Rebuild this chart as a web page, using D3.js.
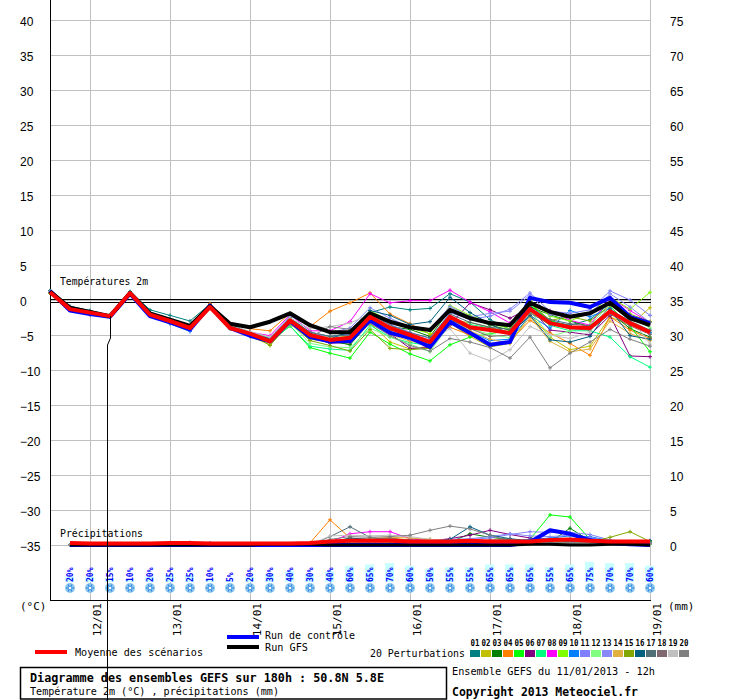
<!DOCTYPE html>
<html>
<head>
<meta charset="utf-8">
<script src="https://d3js.org/d3.v7.min.js"></script>
<style>
  body { margin: 0; background: #fff; }
  text { font-family: "DejaVu Sans Mono", monospace; fill: #000; }
  .num text { font-family: "Liberation Sans", Arial, sans-serif; font-size: 12px; }
</style>
</head>
<body>
<div id="chart"></div>
<script>
// time steps (hours after 11/01 12h)
var stepHours = [0,6,12,18,24,30,36,42,48,54,60,66,72,78,84,90,96,102,108,114,120,126,132,138,144,150,156,162,168,174,180];
var rainHours = [6,12,18,24,30,36,42,48,54,60,66,72,78,84,90,96,102,108,114,120,126,132,138,144,150,156,162,168,174,180];
var dayHours = [12,36,60,84,108,132,156,180];
var dayLabels = ["12/01","13/01","14/01","15/01","16/01","17/01","18/01","19/01"];
var tempTicks = [40,35,30,25,20,15,10,5,0,-5,-10,-15,-20,-25,-30,-35];
var mmTicks = [75,70,65,60,55,50,45,40,35,30,25,20,15,10,5,0];

// temperature 2m (°C)
var tMean = [1.1,-1.3,-1.8,-2.3,1.0,-2.1,-3.0,-4.0,-1.0,-4.0,-4.8,-5.9,-2.9,-5.0,-5.7,-5.4,-2.4,-4.0,-5.0,-6.0,-2.4,-3.9,-4.3,-4.7,-1.3,-3.3,-3.9,-4.0,-1.6,-3.3,-4.6];
var tGfs = [1.2,-1.1,-1.7,-2.3,1.0,-1.9,-2.8,-3.7,-0.9,-3.4,-3.9,-3.1,-1.9,-3.6,-4.6,-4.6,-1.9,-3.1,-3.9,-4.3,-1.4,-2.6,-3.3,-3.6,-0.4,-1.7,-2.4,-1.9,-0.4,-2.6,-3.6];
var tCtrl = [1.3,-1.5,-2.0,-2.4,0.9,-2.3,-3.2,-4.2,-0.8,-4.0,-5.1,-5.9,-3.0,-5.3,-5.9,-5.9,-2.9,-4.7,-5.4,-6.7,-3.1,-4.7,-6.4,-6.0,0.3,-0.3,-0.4,-1.0,0.3,-2.4,-3.3];

var tPert01 = [1.3,-0.9,-1.5,-2.2,1.2,-1.4,-2.2,-3.0,-0.6,-3.5,-4.6,-5.5,-2.5,-4.6,-5.2,-4.8,-1.8,-1.0,-1.4,-1.2,0.9,-0.3,-2.8,-4.2,-0.8,-3.0,-3.6,-2.8,-0.5,-3.0,-4.6];
var tPert02 = [1.0,-1.2,-1.9,-2.4,0.9,-2.2,-3.2,-4.2,-1.2,-4.1,-5.2,-6.4,-3.4,-5.6,-6.0,-6.3,-3.3,-6.0,-7.0,-6.6,-3.3,-5.2,-6.7,-6.2,-2.0,-5.3,-7.1,-6.6,-2.4,-3.6,-1.1];
var tPert03 = [1.2,-1.0,-1.7,-2.3,1.1,-2.0,-2.9,-3.8,-0.8,-3.7,-4.6,-5.6,-2.5,-5.0,-5.8,-6.4,-3.1,-3.8,-4.2,-5.2,-1.4,-2.4,-3.6,-4.3,-1.0,-2.1,-3.0,-3.8,-1.7,-4.1,-5.3];
var tPert04 = [1.1,-1.1,-1.8,-2.3,1.0,-1.9,-2.8,-3.7,-0.5,-3.4,-4.1,-4.4,-1.9,-3.8,-1.6,-0.4,1.0,-2.0,-3.4,-4.9,-3.9,-5.0,-6.3,-5.9,-2.9,-4.7,-6.2,-7.9,-2.4,-4.3,-5.5];
var tPert05 = [1.0,-1.3,-2.0,-2.4,0.8,-2.3,-3.3,-4.3,-1.1,-4.0,-5.1,-5.9,-3.7,-6.8,-7.6,-8.3,-4.6,-6.3,-7.7,-8.7,-6.4,-5.3,-4.8,-4.4,-0.6,-2.9,-3.9,-4.1,-0.9,-3.7,-7.4];
var tPert06 = [1.1,-1.4,-2.1,-2.4,0.9,-2.0,-3.1,-4.2,-0.9,-3.9,-5.0,-6.1,-3.0,-5.2,-6.2,-6.0,-2.6,-4.8,-6.9,-6.8,-3.6,-0.4,-1.4,-2.6,-1.1,-4.3,-4.6,-5.0,-2.2,-8.0,-8.1];
var tPert07 = [1.2,-1.0,-1.7,-2.3,1.1,-2.2,-3.1,-4.1,-0.9,-3.9,-4.9,-6.1,-3.7,-6.6,-7.0,-7.2,-3.6,-5.3,-6.1,-6.5,-3.0,-3.5,-4.0,-4.6,-1.7,-3.6,-4.4,-4.4,-5.3,-8.1,-9.6];
var tPert08 = [1.1,-1.2,-1.8,-2.3,0.9,-2.1,-3.2,-4.1,-0.9,-3.8,-4.6,-5.1,-2.1,-4.4,-4.4,-3.1,0.9,-0.4,-0.1,-0.1,1.4,-0.3,-1.7,-3.3,-0.4,-1.5,-2.9,-3.6,0.4,-1.5,-3.2];
var tPert09 = [1.0,-1.1,-1.7,-2.2,1.0,-2.0,-3.0,-4.0,-0.9,-3.8,-4.7,-5.4,-2.7,-4.8,-5.5,-5.1,-1.5,-3.0,-4.0,-4.8,-0.8,-2.2,-3.3,-4.1,0.0,-2.3,-3.0,-1.8,0.4,-1.3,1.1];
var tPert10 = [1.2,-1.3,-1.9,-2.4,0.9,-2.3,-3.4,-4.5,-1.0,-4.1,-5.1,-6.0,-3.2,-5.4,-6.1,-5.8,-2.8,-4.4,-5.8,-6.2,-3.1,-4.5,-5.8,-5.6,-2.2,-4.0,-1.5,-2.4,-1.2,-3.4,-4.7];
var tPert11 = [1.1,-1.2,-1.8,-2.3,1.0,-2.1,-3.3,-4.4,-1.1,-4.0,-4.9,-5.7,-2.8,-4.8,-5.3,-4.9,-1.9,-3.5,-4.6,-5.5,-1.8,-2.8,-2.3,-1.3,1.0,-1.6,-1.9,-1.4,1.3,0.0,-2.2];
var tPert12 = [1.0,-1.1,-1.8,-2.3,1.0,-2.0,-3.1,-4.1,-1.0,-3.9,-4.8,-5.8,-3.3,-6.2,-6.7,-6.8,-4.0,-5.3,-6.3,-7.4,-3.4,-4.1,-4.9,-5.4,-1.5,-5.2,-4.4,-3.6,-0.6,-2.3,-4.0];
var tPert13 = [1.2,-1.1,-1.7,-2.3,1.1,-2.0,-2.9,-3.9,-0.9,-3.7,-4.8,-5.4,-2.3,-3.7,-4.7,-4.0,-1.1,-2.6,-3.9,-4.2,-0.9,-2.4,-1.9,-1.6,0.7,-2.1,-2.3,-2.0,0.9,-1.0,-3.2];
var tPert14 = [1.1,-1.2,-1.8,-2.3,1.0,-2.0,-3.0,-3.9,-0.9,-3.8,-4.8,-6.2,-3.5,-5.2,-5.3,-5.5,-3.4,-4.9,-5.9,-6.4,-2.6,-4.4,-5.6,-6.2,-2.4,-5.9,-7.4,-7.0,-3.0,-4.8,-5.8];
var tPert15 = [1.0,-1.2,-1.8,-2.3,1.0,-2.1,-3.0,-4.0,-1.0,-3.9,-4.8,-6.5,-3.2,-5.8,-6.5,-7.3,-4.2,-6.9,-7.1,-6.9,-3.0,-3.2,-3.9,-4.7,-0.4,-2.9,-2.4,-3.0,-0.8,-2.0,-3.1];
var tPert16 = [1.3,-1.0,-1.6,-2.2,1.1,-1.8,-2.8,-3.8,-0.7,-3.6,-4.6,-5.8,-3.1,-4.8,-5.6,-4.4,-1.5,-2.2,-3.5,-3.1,0.4,-1.8,-3.4,-4.9,-2.2,-5.7,-6.0,-5.2,-1.3,-5.1,-5.6];
var tPert17 = [1.2,-1.0,-1.7,-2.3,1.1,-2.0,-3.0,-3.9,-0.8,-3.7,-4.7,-5.5,-2.8,-4.6,-5.2,-5.0,-2.0,-3.6,-4.7,-5.4,-2.0,-3.2,-3.9,-4.2,-1.2,-2.8,-3.4,-3.7,-1.4,-3.0,-4.3];
var tPert18 = [1.1,-1.1,-1.8,-2.3,1.0,-2.0,-3.1,-4.0,-0.9,-3.8,-4.8,-5.8,-3.0,-5.1,-5.9,-5.7,-2.7,-4.2,-5.3,-6.1,-2.8,-4.1,-5.2,-5.0,-1.9,-3.4,-4.1,-4.3,-2.0,-3.7,-4.9];
var tPert19 = [1.2,-1.0,-1.7,-2.3,1.0,-1.9,-2.9,-3.9,-0.8,-3.6,-4.5,-5.3,-2.6,-4.1,-3.8,-3.3,-2.0,-3.8,-5.1,-5.9,-4.1,-7.6,-8.7,-7.1,-3.8,-5.0,-5.5,-4.6,-0.6,-2.5,-6.3];
var tPert20 = [1.1,-1.1,-1.8,-2.3,1.0,-2.1,-3.1,-4.1,-1.0,-3.9,-4.9,-5.9,-3.4,-5.3,-3.8,-4.2,-3.3,-5.1,-6.5,-7.3,-5.5,-6.0,-6.8,-8.3,-5.3,-9.7,-7.6,-6.0,-4.2,-5.6,-6.6];

// precipitations (mm / 6h)
var rMean = [0.3,0.2,0.2,0.2,0.2,0.3,0.3,0.2,0.2,0.2,0.2,0.2,0.3,0.5,0.6,0.6,0.6,0.5,0.5,0.5,0.6,0.5,0.5,0.5,0.7,0.8,0.6,0.5,0.5,0.5];
var rGfs = [0,0,0,0,0,0,0,0,0,0,0.1,0.1,0.1,0,0,0,0,0,0,0,0,0,0,0.1,0.1,0,0,0.1,0.1,0];
var rCtrl = [0,0,0,0,0,0,0,0,0,0,0,0,0,0,0,0,0,0,0,0,0,0,0,0.4,2.1,1.6,0.7,0.3,0.1,0];
var rPert01 = [0,0,0,0,0.1,0.2,0.3,0.2,0,0,0,0,0,0.2,0.5,0.3,0.4,0.6,0.4,0.5,0.7,0.5,0.3,0.4,0.5,0.6,0.4,0.3,0.4,0.6];
var rPert02 = [0,0,0,0,0,0.2,0.2,0,0,0,0,0,0,0.1,0.1,0.3,0.4,0.9,0.8,0.3,0.2,0.2,0.2,0.1,0.3,0.2,0.3,0.2,0.1,0.1];
var rPert03 = [0,0,0,0,0,0.1,0.1,0,0,0,0,0,0,0.2,0.3,0.4,0.5,0.3,0.3,0.4,1.6,1.1,0.8,0.5,0.4,2.4,0.6,0.3,0.2,0.2];
var rPert04 = [0,0,0,0,0,0.1,0.2,0,0,0,0,0,0.3,3.6,1.0,0.6,1.0,0.7,0.5,0.4,0.3,0.2,0.2,0.3,0.4,0.3,0.3,0.2,0.2,0.2];
var rPert05 = [0,0,0,0,0,0,0,0,0,0,0,0,0,0.1,0.2,0.2,0.3,0.2,0.2,0.2,0.3,0.4,0.4,0.8,4.3,4.0,0.8,0.4,0.3,0.2];
var rPert06 = [0,0,0,0,0,0,0,0,0,0,0,0,0,0.2,0.3,0.3,0.4,0.5,0.6,0.9,1.4,2.1,1.5,1.0,0.7,0.5,0.4,0.2,0.2,0.2];
var rPert07 = [0,0,0,0,0,0.2,0.3,0,0,0,0,0,0,0.1,0.3,0.2,0.1,0.2,0.3,0.3,0.3,0.2,0.3,0.4,0.8,0.9,0.4,0.3,0.2,0.1];
var rPert08 = [0,0,0,0,0,0,0,0,0,0,0,0,0,0.4,1.6,1.9,1.9,0.9,0.6,0.6,0.6,0.3,0.4,0.3,0.3,0.5,0.5,0.3,0.2,0.2];
var rPert09 = [0,0,0,0,0,0.1,0.1,0,0,0,0,0,0,0.2,0.4,0.5,0.5,0.4,0.3,0.3,0.3,0.2,0.2,0.4,0.4,0.5,0.3,0.2,0.3,0.2];
var rPert10 = [0,0,0,0,0,0,0.2,0,0,0,0,0,0,0.3,0.5,0.4,0.6,0.7,0.6,0.5,0.6,0.6,0.5,0.8,1.0,1.3,1.2,0.6,0.3,0.3];
var rPert11 = [0,0,0,0,0,0,0,0,0,0,0,0,0,0.1,0.3,0.2,0.3,0.4,0.5,0.6,0.8,1.0,1.5,1.9,1.8,1.8,1.5,0.7,0.5,0.4];
var rPert12 = [0,0,0,0,0,0,0.1,0,0,0,0,0,0,0.2,0.3,0.3,0.3,0.4,0.3,0.3,0.4,0.5,0.4,0.5,0.6,0.7,0.5,0.4,0.3,0.3];
var rPert13 = [0,0,0,0,0,0,0,0,0,0,0,0,0,0.1,0.2,0.4,0.5,0.6,0.7,0.8,0.9,1.2,1.6,1.3,1.2,1.4,1.1,0.5,0.4,0.3];
var rPert14 = [0,0,0,0,0,0.2,0.1,0,0,0,0,0,0,0.5,0.8,0.9,1.1,1.0,0.8,0.6,0.5,0.4,0.4,0.3,0.5,0.6,0.5,0.3,0.2,0.2];
var rPert15 = [0,0,0,0,0,0,0,0,0,0,0,0,0,0.1,0.1,0.2,0.2,0.1,0.2,0.3,0.3,0.4,0.3,0.3,0.3,0.2,0.4,1.1,1.9,0.5];
var rPert16 = [0,0,0,0,0,0.3,0.3,0.2,0,0,0,0,0,0.4,1.0,0.8,0.6,0.5,0.5,0.8,2.6,1.4,0.9,0.6,0.7,0.5,0.4,0.3,0.4,0.6];
var rPert17 = [0,0,0,0,0,0.2,0.2,0.1,0,0,0,0,0,1.2,2.6,1.1,0.7,0.6,0.5,0.4,0.4,0.3,0.3,0.3,0.4,0.3,0.3,0.2,0.2,0.3];
var rPert18 = [0,0,0,0,0,0.1,0.3,0.2,0,0,0,0,0,0.3,0.6,0.8,1.0,0.6,0.4,0.4,0.5,0.7,0.8,0.5,0.4,0.3,0.3,0.2,0.2,0.2];
var rPert19 = [0,0,0,0,0,0,0,0,0,0,0,0,0,1.3,1.4,1.3,1.4,1.2,0.8,0.6,0.5,0.4,0.3,0.3,0.3,0.3,0.2,0.2,0.2,0.2];
var rPert20 = [0,0,0,0,0,0.2,0.3,0.2,0,0,0,0,0,0.8,1.2,1.1,1.2,1.4,2.1,2.7,2.3,1.4,0.6,0.5,0.4,0.3,0.3,0.2,0.2,0.2];

// probabilite de neige (%)
var snowPct = [20,20,15,10,20,25,25,10,5,20,30,40,30,40,60,65,70,60,50,55,55,65,65,65,55,65,75,70,70,60];

var pertNames = ["01","02","03","04","05","06","07","08","09","10","11","12","13","14","15","16","17","18","19","20"];
var pertColors = ["#008080","#c0c000","#008000","#ff8000","#00ff00","#800080","#00ff80","#ff00ff","#80ff00","#0080ff",
                  "#8080ff","#80ff80","#8888f8","#e0b040","#80a800","#006080","#507078","#806870","#c0c0c0","#808080"];
var tPerts = [tPert01,tPert02,tPert03,tPert04,tPert05,tPert06,tPert07,tPert08,tPert09,tPert10,
              tPert11,tPert12,tPert13,tPert14,tPert15,tPert16,tPert17,tPert18,tPert19,tPert20];
var rPerts = [rPert01,rPert02,rPert03,rPert04,rPert05,rPert06,rPert07,rPert08,rPert09,rPert10,
              rPert11,rPert12,rPert13,rPert14,rPert15,rPert16,rPert17,rPert18,rPert19,rPert20];

var svg = d3.select('#chart').append('svg')
  .attr('width', 740).attr('height', 700)
  .style('display', 'block').style('background', '#fff');

var x = d3.scaleLinear().domain([0, 180]).range([50, 650]);
var y = d3.scaleLinear().domain([-40, 40]).range([580, 20]);
var yMm = d3.scaleLinear().domain([0, 5]).range([545, 510]);
var yRight = d3.scaleLinear().domain([-5, 75]).range([580, 20]);

// grille
svg.append('g').selectAll('line').data(tempTicks).enter().append('line')
  .attr('x1', 50).attr('x2', 650)
  .attr('y1', function (d) { return Math.round(y(d)) + 0.5; })
  .attr('y2', function (d) { return Math.round(y(d)) + 0.5; })
  .attr('stroke', '#c0c0c0');
svg.append('g').selectAll('line').data(dayHours).enter().append('line')
  .attr('y1', 0).attr('y2', 600)
  .attr('x1', function (d) { return x(d) + 0.5; })
  .attr('x2', function (d) { return x(d) + 0.5; })
  .attr('stroke', '#c0c0c0');

// axes
var axL = svg.append('g').attr('class', 'num').attr('transform', 'translate(50,0)')
  .call(d3.axisLeft(y).tickValues(tempTicks).tickSize(0).tickPadding(0));
axL.select('.domain').remove();
axL.selectAll('text').attr('x', -30).attr('dy', '0.45em').attr('text-anchor', 'start');

var axR = svg.append('g').attr('class', 'num').attr('transform', 'translate(670,0)')
  .call(d3.axisRight(yRight).tickValues(mmTicks).tickSize(0).tickPadding(0));
axR.select('.domain').remove();
axR.selectAll('text').attr('x', 0).attr('dy', '0.45em').attr('text-anchor', 'start');

var axB = svg.append('g').attr('transform', 'translate(0,600)')
  .call(d3.axisBottom(x).tickValues(dayHours).tickSize(0)
    .tickFormat(function (d, i) { return dayLabels[i]; }));
axB.select('.domain').remove();
axB.selectAll('text')
  .attr('x', 0).attr('y', 0).attr('dy', 0)
  .attr('transform', 'translate(10,3) rotate(-90)')
  .attr('text-anchor', 'end')
  .style('font-family', '"DejaVu Sans Mono", monospace')
  .style('font-size', '11px');

svg.append('line').attr('x1', 50.5).attr('x2', 50.5).attr('y1', 0).attr('y2', 600)
  .attr('stroke', '#000');
svg.append('line').attr('x1', 50).attr('x2', 651).attr('y1', 600.5).attr('y2', 600.5)
  .attr('stroke', '#000');

// ligne 0°C
[-1, 2].forEach(function (o) {
  svg.append('line').attr('x1', 50).attr('x2', 651)
    .attr('y1', Math.round(y(0)) + o + 0.5).attr('y2', Math.round(y(0)) + o + 0.5)
    .attr('stroke', '#000');
});

svg.append('text').attr('x', 60).attr('y', 285).attr('font-size', 11)
  .attr('textLength', 88).attr('lengthAdjust', 'spacingAndGlyphs').text('Températures 2m');
svg.append('text').attr('x', 60).attr('y', 537).attr('font-size', 11)
  .attr('textLength', 83).attr('lengthAdjust', 'spacingAndGlyphs').text('Précipitations');
svg.append('text').attr('x', 20).attr('y', 610).attr('font-size', 11).text('(°C)');
svg.append('text').attr('x', 668).attr('y', 610).attr('font-size', 11).text('(mm)');

var tLine = d3.line()
  .x(function (d, i) { return x(stepHours[i]); })
  .y(function (d) { return y(d); });
var rLine = d3.line()
  .x(function (d, i) { return x(rainHours[i]); })
  .y(function (d) { return yMm(d); });

function drawPert(series, hours, scale, color) {
  var g = svg.append('g');
  g.append('path').datum(series)
    .attr('d', hours === stepHours ? tLine : rLine)
    .attr('fill', 'none').attr('stroke', color).attr('stroke-width', 1);
  g.selectAll('path.mk').data(series).enter().append('path').attr('class', 'mk')
    .attr('d', function (d, i) {
      var px = x(hours[i]), py = scale(d);
      return 'M' + (px - 2) + ',' + py + 'H' + (px + 2) + 'M' + px + ',' + (py - 2) + 'V' + (py + 2);
    })
    .attr('stroke', color).attr('stroke-width', 1);
}

tPerts.forEach(function (s, k) { drawPert(s, stepHours, y, pertColors[k]); });
rPerts.forEach(function (s, k) { drawPert(s, rainHours, yMm, pertColors[k]); });

function drawMain(series, gen, color, w) {
  svg.append('path').datum(series).attr('d', gen)
    .attr('fill', 'none').attr('stroke', color).attr('stroke-width', w)
    .attr('stroke-linejoin', 'round');
}
drawMain(tCtrl, tLine, '#0000ff', 4);
drawMain(rCtrl, rLine, '#0000ff', 4);
drawMain(tGfs, tLine, '#000000', 4);
drawMain(rGfs, rLine, '#000000', 3);
drawMain(tMean, tLine, '#ff0000', 4);
drawMain(rMean, rLine, '#ff0000', 4);

// neige
var snow = svg.append('g').selectAll('g').data(snowPct).enter().append('g')
  .attr('transform', function (d, i) { return 'translate(' + x(rainHours[i]) + ',0)'; });
snow.append('rect')
  .attr('x', -5).attr('width', 9)
  .attr('y', function (d) { return 582 - d * 0.27; })
  .attr('height', function (d) { return d * 0.27; })
  .attr('fill', '#c8ffff');
snow.append('text')
  .attr('transform', 'translate(3,582) rotate(-90)')
  .attr('font-size', 8).attr('font-weight', 'bold')
  .style('fill', '#0000ff')
  .text(function (d) { return d + '%'; });
snow.append('circle').attr('cy', 588).attr('r', 5).attr('fill', '#8cc8f0');
[0, 60, 120].forEach(function (a) {
  snow.append('line')
    .attr('x1', -4).attr('x2', 4).attr('y1', 0).attr('y2', 0)
    .attr('transform', 'translate(0,588) rotate(' + a + ')')
    .attr('stroke', '#2f7fd8').attr('stroke-width', 1);
});
snow.append('circle').attr('cy', 588).attr('r', 1.2).attr('fill', '#fff');

// curseur
svg.append('path')
  .attr('d', 'M' + (x(18) + 0.5) + ',' + y(tMean[3]) + 'V338L' + (x(18) - 2.5) + ',345V700')
  .attr('fill', 'none').attr('stroke', '#000').attr('stroke-width', 1);

// legende
svg.append('line').attr('x1', 35).attr('x2', 67).attr('y1', 652).attr('y2', 652)
  .attr('stroke', '#ff0000').attr('stroke-width', 4);
svg.append('text').attr('x', 75).attr('y', 656).attr('font-size', 11)
  .attr('textLength', 128).attr('lengthAdjust', 'spacingAndGlyphs').text('Moyenne des scénarios');
svg.append('line').attr('x1', 227).attr('x2', 259).attr('y1', 637).attr('y2', 637)
  .attr('stroke', '#0000ff').attr('stroke-width', 4);
svg.append('text').attr('x', 265).attr('y', 639).attr('font-size', 10)
  .attr('textLength', 90).attr('lengthAdjust', 'spacingAndGlyphs').text('Run de contrôle');
svg.append('line').attr('x1', 227).attr('x2', 259).attr('y1', 647).attr('y2', 647)
  .attr('stroke', '#000').attr('stroke-width', 4);
svg.append('text').attr('x', 265).attr('y', 651).attr('font-size', 10)
  .attr('textLength', 43).attr('lengthAdjust', 'spacingAndGlyphs').text('Run GFS');
svg.append('text').attr('x', 370).attr('y', 657).attr('font-size', 11)
  .attr('textLength', 95).attr('lengthAdjust', 'spacingAndGlyphs').text('20 Perturbations');

var sw = svg.append('g').selectAll('g').data(pertNames).enter().append('g')
  .attr('transform', function (d, i) { return 'translate(' + (470 + i * 11) + ',0)'; });
sw.append('rect').attr('y', 650).attr('width', 10).attr('height', 7)
  .attr('fill', function (d, i) { return pertColors[i]; });
sw.append('text').attr('x', 5).attr('y', 646).attr('text-anchor', 'middle')
  .attr('font-size', 8).attr('font-weight', 'bold')
  .attr('textLength', 9).attr('lengthAdjust', 'spacingAndGlyphs')
  .text(function (d) { return d; });

// cartouche
svg.append('rect').attr('x', 20.5).attr('y', 667.5).attr('width', 426).attr('height', 31.5)
  .attr('fill', 'none').attr('stroke', '#000').attr('stroke-width', 1.5);
svg.append('text').attr('x', 30).attr('y', 682).attr('font-size', 12).attr('font-weight', 'bold')
  .attr('textLength', 354).attr('lengthAdjust', 'spacingAndGlyphs')
  .text('Diagramme des ensembles GEFS sur 180h : 50.8N 5.8E');
svg.append('text').attr('x', 30).attr('y', 695).attr('font-size', 11)
  .attr('textLength', 249).attr('lengthAdjust', 'spacingAndGlyphs')
  .text('Température 2m (°C) , précipitations (mm)');
svg.append('text').attr('x', 452).attr('y', 675).attr('font-size', 11)
  .attr('textLength', 203).attr('lengthAdjust', 'spacingAndGlyphs')
  .text('Ensemble GEFS du 11/01/2013 - 12h');
svg.append('text').attr('x', 452).attr('y', 696).attr('font-size', 12).attr('font-weight', 'bold')
  .attr('textLength', 186).attr('lengthAdjust', 'spacingAndGlyphs')
  .text('Copyright 2013 Meteociel.fr');
</script>
</body>
</html>
